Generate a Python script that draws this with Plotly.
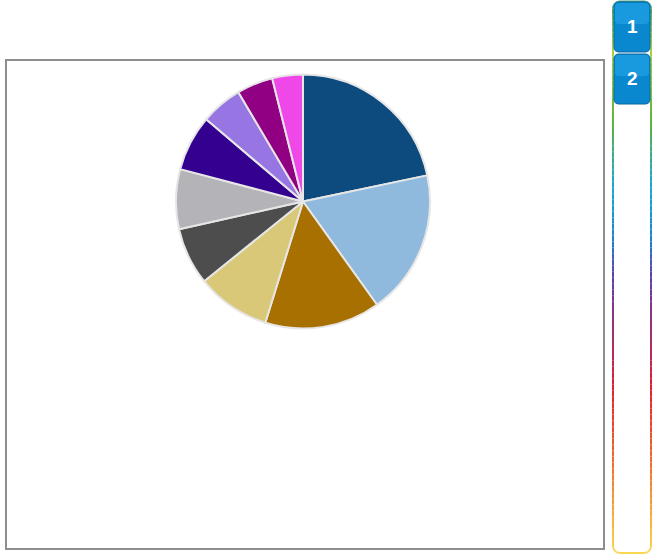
import math
import plotly.graph_objects as go

W, H = 653, 556

# ---- data ----
slice_labels = ["A", "B", "C", "D", "E", "F", "G", "H", "I", "J"]
slice_values = [21.7, 18.4, 14.7, 9.4, 7.3, 7.6, 7.1, 5.3, 4.6, 3.9]
slice_colors = ["#0d4a7d", "#8fbadd", "#a87000", "#d8c878", "#4d4d4d",
                "#b4b3b8", "#330090", "#9775e3", "#910082", "#f048e8"]
button_labels = ["1", "2"]


def px(x):
    return x / W


def py(y):
    return 1 - y / H


fig = go.Figure()
fig.add_trace(go.Pie(
    labels=slice_labels,
    values=slice_values,
    sort=False,
    direction="clockwise",
    rotation=0,
    textinfo="none",
    marker=dict(colors=slice_colors, line=dict(color="#e6e6e6", width=2)),
    domain=dict(x=[px(303 - 128), px(303 + 128)], y=[py(201.5 + 127), py(201.5 - 127)]),
    showlegend=False,
))

shapes = []
# gray frame
shapes.append(dict(type="rect", xref="paper", yref="paper",
                   x0=px(6), x1=px(604), y0=py(549), y1=py(60),
                   line=dict(color="#8e8e8e", width=2), layer="above"))

# gradient-bordered panel on the right
stops = [(0.00, (60, 156, 120)), (0.09, (168, 208, 64)), (0.22, (96, 176, 64)),
         (0.34, (24, 168, 216)), (0.43, (30, 130, 210)), (0.50, (96, 64, 168)),
         (0.60, (160, 48, 112)), (0.70, (224, 32, 48)), (0.85, (240, 120, 48)),
         (1.00, (248, 216, 80))]


def grad(t):
    for (a, ca), (b, cb) in zip(stops[:-1], stops[1:]):
        if a <= t <= b:
            f = (t - a) / (b - a) if b > a else 0
            c = [round(ca[i] + (cb[i] - ca[i]) * f) for i in range(3)]
            return "rgb(%d,%d,%d)" % tuple(c)
    return "rgb(%d,%d,%d)" % stops[-1][1]


L, R, T, B, rad = 613, 651, 1.5, 553, 7
pts = [((L + R) / 2, T)]
for k in range(0, 9):
    a = math.pi / 2 + k * (math.pi / 2) / 8
    pts.append((L + rad + rad * math.cos(a), T + rad - rad * math.sin(a)))
n = 90
for k in range(1, n):
    pts.append((L, T + rad + (B - T - 2 * rad) * k / n))
for k in range(0, 9):
    a = math.pi + k * (math.pi / 2) / 8
    pts.append((L + rad + rad * math.cos(a), B - rad - rad * math.sin(a)))
pts.append(((L + R) / 2, B))
for side in (0, 1):
    for (x0, y0), (x1, y1) in zip(pts[:-1], pts[1:]):
        if side == 1:
            x0, x1 = L + R - x0, L + R - x1
        t = ((y0 + y1) / 2 - T) / (B - T)
        shapes.append(dict(type="line", xref="paper", yref="paper",
                           x0=px(x0), x1=px(x1), y0=py(y0), y1=py(y1),
                           line=dict(color=grad(t), width=2), layer="above"))


def rounded(x0, y0, x1, y1, r):
    return (f"M{px(x0 + r)},{py(y0)} L{px(x1 - r)},{py(y0)} "
            f"Q{px(x1)},{py(y0)} {px(x1)},{py(y0 + r)} L{px(x1)},{py(y1 - r)} "
            f"Q{px(x1)},{py(y1)} {px(x1 - r)},{py(y1)} L{px(x0 + r)},{py(y1)} "
            f"Q{px(x0)},{py(y1)} {px(x0)},{py(y1 - r)} L{px(x0)},{py(y0 + r)} "
            f"Q{px(x0)},{py(y0)} {px(x0 + r)},{py(y0)} Z")


for i, _ in enumerate(button_labels):
    y0 = 2 + i * 52
    shapes.append(dict(type="path", xref="paper", yref="paper",
                       path=rounded(614, y0, 650, y0 + 50, 5),
                       fillcolor="#0a88cf", line=dict(color="#0668a6", width=1),
                       layer="above"))
    shapes.append(dict(type="path", xref="paper", yref="paper",
                       path=rounded(615, y0 + 1, 649, y0 + 22, 4),
                       fillcolor="rgba(40,170,235,0.55)", line=dict(width=0),
                       layer="above"))

buttons = [dict(label="\u00a0<br><span style='font-size:19px;font-weight:bold'>%s</span><br>\u00a0" % b,
                method="skip", args=[None]) for b in button_labels]

fig.update_layout(
    width=W, height=H,
    margin=dict(l=0, r=0, t=0, b=0),
    paper_bgcolor="white", plot_bgcolor="white",
    shapes=shapes,
    updatemenus=[dict(
        type="buttons", direction="down", active=-1,
        x=px(615), y=py(5), xanchor="left", yanchor="top",
        pad=dict(l=0, r=0, t=0, b=0),
        bgcolor="rgba(0,0,0,0)", bordercolor="rgba(0,0,0,0)", borderwidth=0,
        font=dict(family="Liberation Sans, Arial", size=12, color="white"),
        showactive=False,
        buttons=buttons,
    )],
)

fig.write_html("out.html", config={"displayModeBar": False},
               post_script="document.body.style.margin='0';")
